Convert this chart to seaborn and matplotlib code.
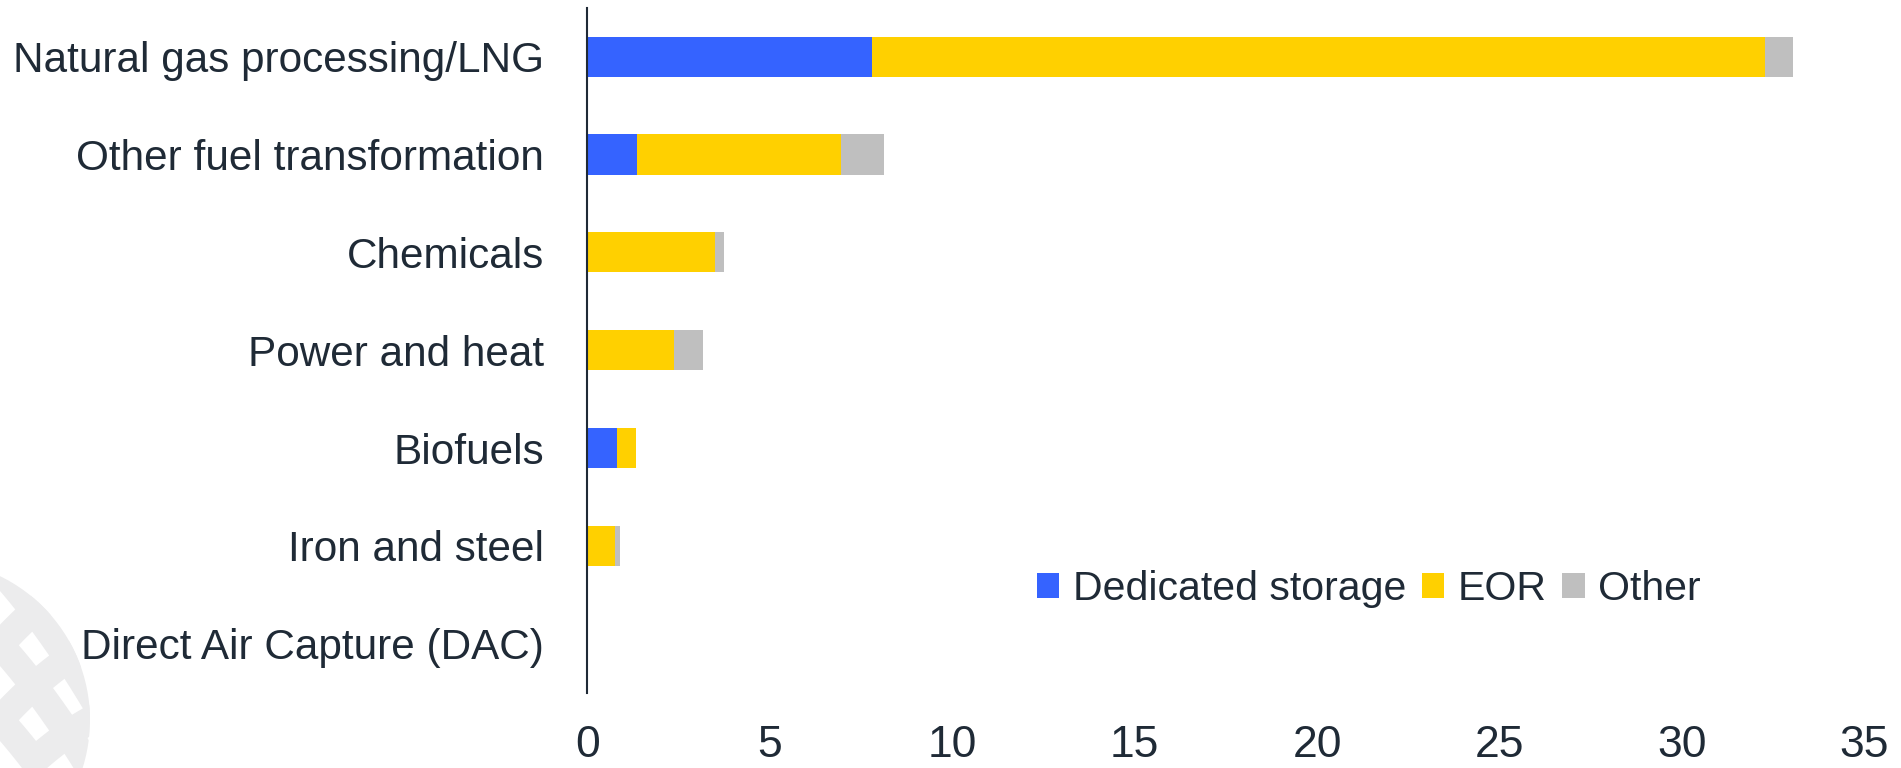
import numpy as np
import pandas as pd
import matplotlib
matplotlib.use("Agg")
import matplotlib.pyplot as plt
from matplotlib.patches import Patch, Circle
import seaborn as sns

# CO2 capture by application (Mt CO2), split by destination
sectors = [
    "Natural gas processing/LNG",
    "Other fuel transformation",
    "Chemicals",
    "Power and heat",
    "Biofuels",
    "Iron and steel",
    "Direct Air Capture (DAC)",
]
dedicated_storage = [7.79, 1.37, 0.0, 0.0, 0.82, 0.0, 0.0]
eor = [24.48, 5.59, 3.50, 2.36, 0.50, 0.76, 0.0]
other = [0.77, 1.16, 0.23, 0.82, 0.0, 0.12, 0.0]
series_names = ["Dedicated storage", "EOR", "Other"]
x_ticks = [0, 5, 10, 15, 20, 25, 30, 35]

colors = {"Dedicated storage": "#3563ff", "EOR": "#ffd000", "Other": "#bfbfbf"}
text_color = "#1f2a36"

sns.set_theme(style="white")
plt.rcParams["font.family"] = ["Liberation Sans", "DejaVu Sans"]

df = pd.DataFrame({
    "sector": sectors,
    "Dedicated storage": dedicated_storage,
    "EOR": eor,
    "Other": other,
})
df["cum_ds"] = df["Dedicated storage"]
df["cum_eor"] = df["cum_ds"] + df["EOR"]
df["cum_other"] = df["cum_eor"] + df["Other"]

fig = plt.figure(figsize=(19.01, 7.68), dpi=100)
ax = fig.add_axes([0.309, 0.098, 0.6718, 0.892])

# stacked bars drawn back to front as cumulative totals
bar_w = 0.41
for col, name in [("cum_other", "Other"), ("cum_eor", "EOR"), ("cum_ds", "Dedicated storage")]:
    sns.barplot(data=df, x=col, y="sector", order=sectors, orient="h",
                color=colors[name], width=bar_w, saturation=1, ax=ax,
                linewidth=0, edgecolor="none")

ax.set_xlim(0, 35)
ax.set_ylim(6.5, -0.5)
ax.set_xticks(x_ticks)
ax.set_xticklabels([str(t) for t in x_ticks])
ax.set_xlabel("")
ax.set_ylabel("")
ax.grid(False)

for s in ["top", "right", "bottom"]:
    ax.spines[s].set_visible(False)
ax.spines["left"].set_color(text_color)
ax.spines["left"].set_linewidth(1.5)

ax.tick_params(axis="x", length=0, pad=23, labelsize=32, labelcolor=text_color)
ax.tick_params(axis="y", length=0, pad=31.5, labelsize=30.4, labelcolor=text_color)

handles = [Patch(facecolor=colors[n], edgecolor="none", label=n) for n in series_names]
fig.legend(handles=handles, loc="center", bbox_to_anchor=(0.720, 0.233),
           bbox_transform=fig.transFigure, ncol=3, frameon=False,
           fontsize=29.5, handlelength=0.55, handleheight=0.55,
           handletextpad=0.33, columnspacing=0.38, borderpad=0,
           labelcolor=text_color)

# faint globe emblem in the lower-left corner
emb = fig.add_axes([0, 0, 1, 1], zorder=-1)
emb.set_xlim(0, 1901)
emb.set_ylim(768, 0)
emb.axis("off")
clip = Circle((-70, 720), 160, transform=emb.transData)
for k in range(-5, 6):
    xs = np.linspace(-260, 200, 240)
    line1 = emb.plot(xs, 720 + k * 75 + 1.1 * xs + 0.003 * xs ** 2,
                     color="#ececed", lw=20, solid_capstyle="butt")[0]
    line2 = emb.plot(xs, 720 + k * 75 - 1.1 * xs + 0.003 * xs ** 2,
                     color="#ececed", lw=20, solid_capstyle="butt")[0]
    line1.set_clip_path(clip)
    line2.set_clip_path(clip)

fig.savefig("out.png", dpi=100, facecolor="white")
